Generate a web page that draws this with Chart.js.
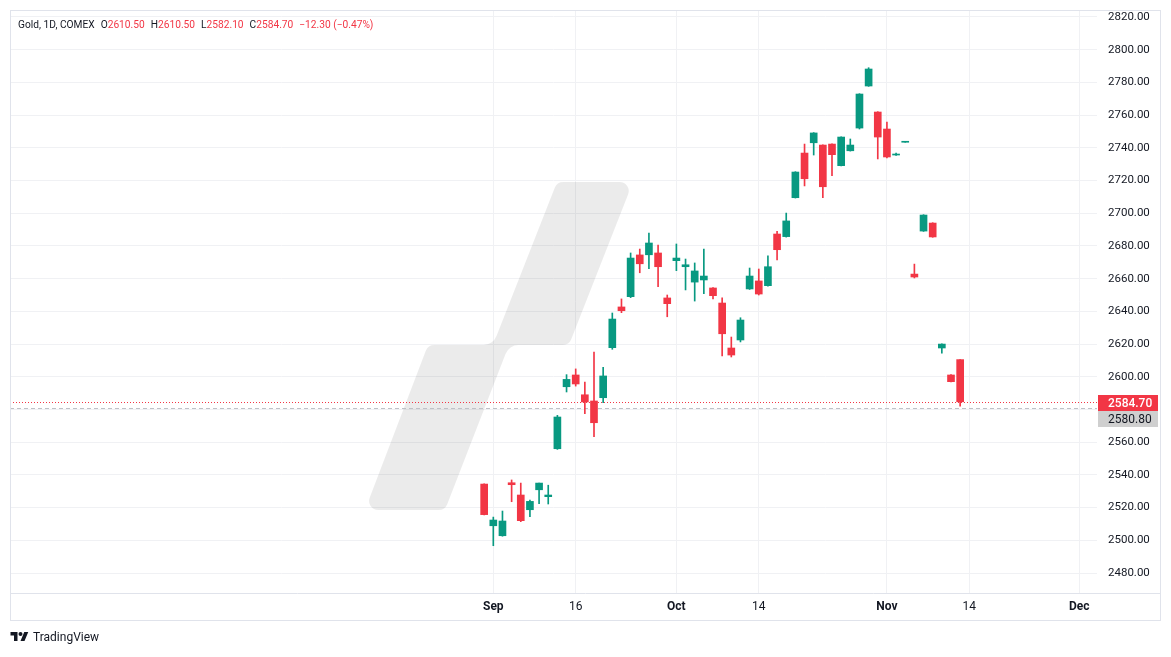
<!DOCTYPE html>
<html>
<head>
<meta charset="utf-8">
<script src="https://cdn.jsdelivr.net/npm/chart.js@4"></script>
<style>
  html, body { margin: 0; padding: 0; background: #fff; }
  #wrap { position: relative; width: 1171px; height: 657px; overflow: hidden; }
  #chart { position: absolute; left: 0; top: 0; }
  #legend { position: absolute; left: 18px; top: 18px; font: 10.2px Roboto, sans-serif; line-height: 14px; color: #131722; white-space: nowrap; }
  #legend .g { margin-left: 6px; }
  #legend .v { color: #F23645; }
  #brand { position: absolute; left: 10px; top: 630px; font: 12px Roboto, sans-serif; color: #131722; display: flex; align-items: center; }
  #brand svg { margin-right: 4px; }
</style>
</head>
<body>
<div id="wrap">
  <canvas id="chart" width="1171" height="657"></canvas>
  <div id="legend"></div>
  <div id="brand">
    <svg width="19" height="14" viewBox="0 0 36 28"><path fill="#131722" d="M14 22H7V11H0V4h14v18zM28 22h-8l7.5-18h8L28 22z"/><circle fill="#131722" cx="20" cy="8" r="4"/></svg>
    <span>TradingView</span>
  </div>
</div>
<script>
// daily candles, Gold COMEX
var dates = ['Aug 30','Sep 3','Sep 4','Sep 5','Sep 6','Sep 9','Sep 10','Sep 11','Sep 12','Sep 13',
  'Sep 16','Sep 17','Sep 18','Sep 19','Sep 20','Sep 23','Sep 24','Sep 25','Sep 26','Sep 27',
  'Sep 30','Oct 1','Oct 2','Oct 3','Oct 4','Oct 7','Oct 8','Oct 9','Oct 10','Oct 11',
  'Oct 14','Oct 15','Oct 16','Oct 17','Oct 18','Oct 21','Oct 22','Oct 23','Oct 24','Oct 25',
  'Oct 28','Oct 29','Oct 30','Oct 31','Nov 1','Nov 4','Nov 5','Nov 6','Nov 7','Nov 8',
  'Nov 11','Nov 12','Nov 13']
var open = [2534.4,2508.9,2502.8,2535.2,2527.7,2518.7,2530.9,2526.7,2556.0,2593.9,
  2601.1,2589.0,2585.2,2587.2,2617.8,2642.7,2649.0,2674.5,2674.6,2675.7,
  2648.2,2671.0,2667.3,2657.9,2659.2,2654.3,2645.1,2617.6,2622.5,2653.7,
  2658.6,2655.7,2687.3,2685.7,2709.5,2736.8,2743.1,2741.7,2742.3,2729.1,
  2738.2,2752.1,2777.8,2761.9,2751.5,2735.6,2743.4,2662.8,2689.1,2694.0,
  2617.6,2601.1,2610.5]
var high = [2534.6,2514.2,2517.9,2536.9,2535.0,2524.6,2535.0,2533.7,2576.4,2601.3,
  2604.8,2596.8,2615.1,2605.8,2639.0,2647.6,2675.7,2678.1,2687.9,2680.6,
  2650.0,2681.2,2672.0,2669.6,2678.1,2654.6,2648.2,2624.3,2636.1,2666.5,
  2665.9,2673.9,2688.9,2700.1,2725.4,2742.3,2749.3,2741.9,2742.5,2746.8,
  2745.4,2773.1,2789.0,2762.1,2755.8,2736.8,2743.8,2668.9,2699.1,2694.2,
  2620.2,2601.3,2610.5]
var low = [2515.5,2496.7,2502.5,2523.6,2511.4,2514.4,2522.4,2522.2,2555.6,2590.7,
  2594.3,2577.4,2563.4,2584.1,2616.8,2639.2,2648.4,2663.6,2666.1,2655.1,
  2636.7,2664.9,2653.1,2646.3,2650.8,2647.6,2612.7,2612.1,2621.3,2653.4,
  2650.0,2655.4,2671.4,2685.4,2709.3,2716.7,2735.6,2709.5,2722.9,2728.9,
  2738.0,2751.5,2777.6,2733.2,2733.8,2735.4,2743.4,2660.4,2688.9,2685.3,
  2614.5,2596.8,2582.1]
var close = [2515.7,2512.4,2511.8,2534.0,2512.0,2523.8,2535.0,2527.7,2575.4,2598.4,
  2595.6,2584.6,2571.9,2600.5,2635.3,2640.4,2672.6,2669.1,2681.8,2667.3,
  2644.7,2672.6,2668.5,2664.7,2661.6,2649.6,2626.3,2613.3,2634.7,2661.6,
  2650.6,2667.3,2677.7,2695.3,2725.2,2721.1,2749.1,2716.2,2735.8,2746.6,
  2741.7,2772.9,2788.2,2746.6,2734.4,2735.9,2743.8,2661.0,2698.9,2685.5,
  2620.0,2597.0,2584.7]

var tickPos = [1, 10, 21, 30, 44, 53, 65]
var tickText = ['Sep', '16', 'Oct', '14', 'Nov', '14', 'Dec']
var monthLabels = ['Sep', 'Oct', 'Nov', 'Dec']
var yTicks = [2480, 2500, 2520, 2540, 2560, 2580, 2600, 2620, 2640, 2660, 2680, 2700, 2720, 2740, 2760, 2780, 2800, 2820]
var otherPrice = 2580.80

var UP = '#089981', DOWN = '#F23645'
var FONT = 'Roboto, sans-serif'

var last = close.length - 1
var lastClose = close[last]

// legend text
var chg = close[last] - close[last - 1]
var pct = chg / close[last - 1] * 100
function sgn(v) { return (v < 0 ? '\u2212' : '+') + Math.abs(v).toFixed(2) }
document.getElementById('legend').innerHTML =
  '<span>Gold, 1D, COMEX</span>' +
  '<span class="g">O<span class="v">' + open[last].toFixed(2) + '</span></span>' +
  '<span class="g">H<span class="v">' + high[last].toFixed(2) + '</span></span>' +
  '<span class="g">L<span class="v">' + low[last].toFixed(2) + '</span></span>' +
  '<span class="g">C<span class="v">' + close[last].toFixed(2) + '</span></span>' +
  '<span class="g v">' + sgn(chg) + ' (' + sgn(pct) + '%)</span>'

var bodies = [], wicks = [], colors = []
for (var i = 0; i < close.length; i++) {
  bodies.push({ x: i, y: [open[i], close[i]] })
  wicks.push({ x: i, y: [low[i], high[i]] })
  colors.push(close[i] >= open[i] ? UP : DOWN)
}

function roundedPoly(ctx, pts, radii) {
  var n = pts.length
  var a = pts[n - 1], b = pts[0]
  ctx.beginPath()
  ctx.moveTo((a[0] + b[0]) / 2, (a[1] + b[1]) / 2)
  for (var k = 0; k < n; k++) {
    var p = pts[k], q = pts[(k + 1) % n]
    ctx.arcTo(p[0], p[1], q[0], q[1], radii[k])
  }
  ctx.closePath()
}

var decor = {
  id: 'decor',
  beforeDatasetsDraw: function(chart) {
    var ctx = chart.ctx, ca = chart.chartArea, y = chart.scales.y
    // watermark
    ctx.save()
    ctx.fillStyle = 'rgba(0,0,0,0.08)'
    roundedPoly(ctx, [[557,182],[633,182],[569,345],[509,345],[445,510],[365,510],[428,345],[493,345]],
      [9, 9, 9, 14, 9, 9, 9, 14])
    ctx.fill()
    ctx.restore()

    // last price line + other price line
    ctx.save()
    var py = Math.round(y.getPixelForValue(lastClose)) + 0.5
    ctx.strokeStyle = DOWN
    ctx.lineWidth = 1
    ctx.setLineDash([1, 2])
    ctx.beginPath(); ctx.moveTo(ca.left, py); ctx.lineTo(ca.right, py); ctx.stroke()
    var gy = Math.round(y.getPixelForValue(otherPrice)) + 0.5
    ctx.strokeStyle = '#bfc1c7'
    ctx.setLineDash([4, 3])
    ctx.beginPath(); ctx.moveTo(ca.left, gy); ctx.lineTo(ca.right, gy); ctx.stroke()
    ctx.restore()
  },
  afterDraw: function(chart) {
    var ctx = chart.ctx, ca = chart.chartArea, y = chart.scales.y
    ctx.save()
    // frame
    ctx.strokeStyle = '#e0e3eb'
    ctx.lineWidth = 1
    ctx.strokeRect(10.5, 10.5, 1150, 610)
    ctx.beginPath(); ctx.moveTo(10, ca.bottom + 0.5); ctx.lineTo(1161, ca.bottom + 0.5); ctx.stroke()

    // price badges
    var cy = Math.round(y.getPixelForValue(lastClose)) + 1
    ctx.fillStyle = DOWN
    ctx.fillRect(ca.right + 1, cy - 8, 60, 16)
    ctx.fillStyle = '#cfcfcf'
    ctx.fillRect(ca.right + 1, cy + 8, 60, 16)
    ctx.font = '500 12px ' + FONT
    ctx.textBaseline = 'middle'
    ctx.textAlign = 'left'
    ctx.fillStyle = '#ffffff'
    ctx.fillText(lastClose.toFixed(2), ca.right + 11, cy + 0.5)
    ctx.fillStyle = '#131722'
    ctx.font = '12px ' + FONT
    ctx.fillText(otherPrice.toFixed(2), ca.right + 11, cy + 16.5)
    ctx.restore()
  }
}

var chart = new Chart(document.getElementById('chart').getContext('2d'), {
  type: 'bar',
  data: {
    labels: dates,
    datasets: [
      { label: 'body', data: bodies, backgroundColor: colors, barThickness: 7, minBarLength: 1, grouped: false, order: 0, borderWidth: 0 },
      { label: 'wick', data: wicks, backgroundColor: colors, barThickness: 1, grouped: false, order: 1, borderWidth: 0 }
    ]
  },
  options: {
    responsive: false,
    animation: false,
    events: [],
    layout: { padding: { left: 10, top: 10, right: 10, bottom: 36 } },
    plugins: { legend: { display: false }, tooltip: { enabled: false } },
    scales: {
      x: {
        type: 'linear',
        min: -51.8,
        max: 66.95,
        offset: false,
        grid: { color: '#f0f1f4', drawTicks: false, offset: false },
        border: { display: false },
        afterBuildTicks: function(scale) {
          scale.ticks = tickPos.map(function(v) { return { value: v } })
        },
        afterFit: function(scale) {
          scale.height = 28
          scale.paddingLeft = 0
          scale.paddingRight = 0
        },
        ticks: {
          autoSkip: false,
          maxRotation: 0,
          padding: 7,
          color: '#131722',
          font: function(c) {
            var t = c.tick ? tickText[tickPos.indexOf(c.tick.value)] : ''
            return { family: FONT, size: 12, weight: monthLabels.indexOf(t) >= 0 ? 'bold' : 'normal' }
          },
          callback: function(v) { return tickText[tickPos.indexOf(v)] }
        }
      },
      y: {
        position: 'right',
        min: 2467.78,
        max: 2824.28,
        grid: { color: '#f0f1f4', drawTicks: false },
        border: { display: false },
        afterBuildTicks: function(scale) {
          scale.ticks = yTicks.map(function(v) { return { value: v } })
        },
        afterFit: function(scale) {
          scale.width = 64
          scale.paddingTop = 0
          scale.paddingBottom = 0
        },
        ticks: {
          padding: 11,
          color: '#131722',
          font: { family: FONT, size: 11.5 },
          callback: function(v) { return v.toFixed(2) }
        }
      }
    }
  },
  plugins: [decor]
})
</script>
</body>
</html>
